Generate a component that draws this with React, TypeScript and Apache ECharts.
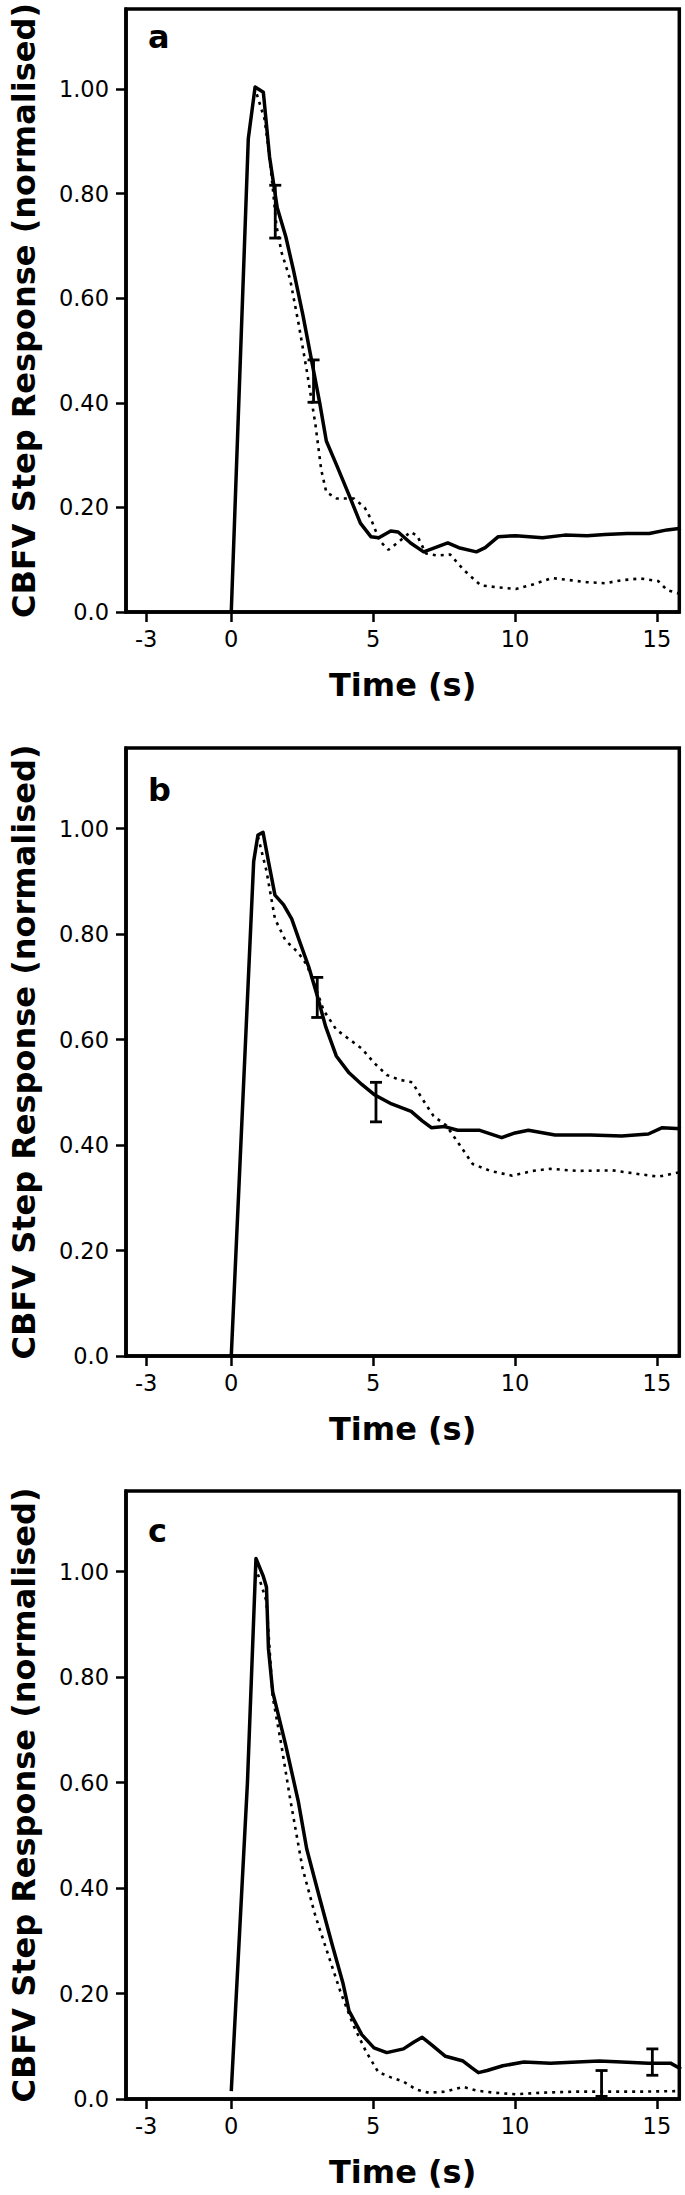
import React, { useEffect, useRef } from 'react';
import * as echarts from 'echarts';

// ---------- data ----------
const X_TICKS = [-3, 0, 5, 10, 15];
const Y_TICKS = [0, 0.2, 0.4, 0.6, 0.8, 1.0];
const PANEL_LABELS = ['a', 'b', 'c'];
const X_TITLE = 'Time (s)';
const Y_TITLE = 'CBFV Step Response (normalised)';

const panelASolid: number[][] = [
  [0, 0], [0.6, 0.905], [0.84, 1.004], [1.13, 0.994], [1.35, 0.87], [1.62, 0.773], [1.92, 0.718],
  [2.19, 0.654], [2.52, 0.569], [2.82, 0.484], [3.12, 0.399], [3.35, 0.327], [3.72, 0.28],
  [4.17, 0.221], [4.55, 0.17], [4.92, 0.144], [5.2, 0.142], [5.62, 0.155], [5.88, 0.153],
  [6.32, 0.132], [6.78, 0.115], [7.09, 0.121], [7.63, 0.132], [8.02, 0.123], [8.64, 0.115],
  [8.95, 0.123], [9.41, 0.144], [10.03, 0.146], [10.97, 0.142], [11.75, 0.147], [12.54, 0.146],
  [13.17, 0.148], [13.95, 0.15], [14.73, 0.15], [15.36, 0.157], [15.85, 0.16],
];
const panelADotted: number[][] = [
  [0.9, 0.99], [1.17, 0.943], [1.32, 0.884], [1.47, 0.807], [1.59, 0.739], [1.77, 0.688],
  [2.07, 0.637], [2.37, 0.552], [2.67, 0.459], [2.97, 0.357], [3.17, 0.272], [3.35, 0.229],
  [3.72, 0.217], [4.32, 0.217], [4.7, 0.2], [4.92, 0.178], [5.23, 0.136], [5.54, 0.119],
  [5.85, 0.132], [6.32, 0.153], [6.55, 0.146], [6.86, 0.112], [7.25, 0.108], [7.71, 0.11],
  [8.18, 0.081], [8.79, 0.051], [9.41, 0.047], [10.03, 0.044], [10.66, 0.053], [11.29, 0.065],
  [11.91, 0.061], [12.54, 0.057], [13.17, 0.055], [13.79, 0.061], [14.42, 0.064], [15.05, 0.059],
  [15.36, 0.042], [15.85, 0.034],
];
const panelAErrors: number[][] = [
  [1.55, 0.715, 0.816],
  [2.9, 0.401, 0.482],
];

const panelBSolid: number[][] = [
  [0, 0], [0.79, 0.938], [0.94, 0.988], [1.12, 0.993], [1.31, 0.938], [1.54, 0.874], [1.84, 0.856],
  [2.13, 0.829], [2.43, 0.783], [2.73, 0.738], [3.03, 0.683], [3.33, 0.624], [3.7, 0.569],
  [4.15, 0.537], [4.6, 0.515], [5.03, 0.496], [5.65, 0.478], [6.34, 0.464], [6.73, 0.446],
  [7.05, 0.433], [7.52, 0.435], [7.98, 0.428], [8.76, 0.428], [9.53, 0.414], [10.0, 0.423],
  [10.47, 0.428], [11.41, 0.419], [12.66, 0.419], [13.76, 0.417], [14.7, 0.421], [15.19, 0.433],
  [15.85, 0.431],
];
const panelBDotted: number[][] = [
  [0.94, 0.985], [1.24, 0.92], [1.54, 0.829], [1.91, 0.788], [2.36, 0.765], [2.66, 0.742],
  [2.96, 0.701], [3.25, 0.656], [3.7, 0.619], [4.15, 0.601], [4.6, 0.583], [5.03, 0.556],
  [5.48, 0.533], [5.92, 0.524], [6.38, 0.519], [6.68, 0.492], [7.13, 0.455], [7.58, 0.437],
  [8.04, 0.401], [8.51, 0.364], [9.13, 0.351], [9.9, 0.342], [10.62, 0.351], [11.24, 0.355],
  [12.18, 0.351], [13.44, 0.352], [14.22, 0.346], [15.05, 0.34], [15.85, 0.349],
];
const panelBErrors: number[][] = [
  [3.03, 0.642, 0.718],
  [5.1, 0.444, 0.519],
];

const panelCSolid: number[][] = [
  [0, 0.015], [0.57, 0.6], [0.87, 1.025], [1.13, 0.991], [1.24, 0.971], [1.31, 0.854], [1.46, 0.772],
  [1.91, 0.673], [2.36, 0.565], [2.66, 0.474], [3.1, 0.384], [3.55, 0.294], [3.93, 0.221],
  [4.15, 0.167], [4.6, 0.122], [5.03, 0.097], [5.48, 0.088], [6.07, 0.095], [6.44, 0.108],
  [6.73, 0.117], [7.03, 0.104], [7.55, 0.081], [8.17, 0.072], [8.48, 0.059], [8.71, 0.05],
  [9.02, 0.054], [9.57, 0.063], [10.31, 0.07], [11.25, 0.068], [12.19, 0.07], [12.97, 0.072],
  [13.76, 0.07], [14.7, 0.068], [15.48, 0.068], [15.85, 0.057],
];
const panelCDotted: number[][] = [
  [0.94, 0.995], [1.24, 0.944], [1.46, 0.763], [1.76, 0.673], [2.06, 0.574], [2.51, 0.438],
  [2.96, 0.348], [3.4, 0.276], [3.85, 0.203], [4.3, 0.14], [4.75, 0.09], [5.18, 0.051],
  [5.63, 0.041], [6.07, 0.033], [6.52, 0.018], [6.96, 0.012], [7.55, 0.014], [8.17, 0.023],
  [8.63, 0.016], [9.25, 0.012], [10.03, 0.009], [10.97, 0.012], [12.22, 0.014], [13.32, 0.014],
  [14.42, 0.014], [15.85, 0.015],
];
const panelCErrors: number[][] = [
  [13.05, 0.005, 0.054],
  [14.84, 0.045, 0.095],
];

const PANELS = [
  { solid: panelASolid, dotted: panelADotted, errors: panelAErrors },
  { solid: panelBSolid, dotted: panelBDotted, errors: panelBErrors },
  { solid: panelCSolid, dotted: panelCDotted, errors: panelCErrors },
];

// ---------- layout ----------
const GRID_TOPS = [4, 748, 1491];
const GRID_HEIGHT = 608;
const LETTER_TOPS = [21, 774, 1515];
const X_MIN = -3.71;
const X_MAX = 15.79;
const Y_MAX = 1.153;
const FONT = '"DejaVu Sans", Verdana, sans-serif';

export default function App() {
  const ref = useRef<HTMLDivElement>(null);

  useEffect(() => {
    document.body.style.margin = '0';
    if (!ref.current) return;
    const chart = echarts.init(ref.current, undefined, { renderer: 'svg' });

    const grids = GRID_TOPS.map((top) => ({
      left: 125,
      width: 554.3,
      top,
      height: GRID_HEIGHT,
      show: true,
      borderColor: '#000',
      borderWidth: 3.5,
      backgroundColor: 'transparent',
    }));

    const xAxes = GRID_TOPS.map((_, i) => ({
      type: 'value',
      gridIndex: i,
      min: X_MIN,
      max: X_MAX,
      name: X_TITLE,
      nameLocation: 'middle',
      nameGap: 57,
      nameTextStyle: { fontFamily: FONT, fontSize: 32, fontWeight: 'bold', color: '#000' },
      axisLine: { show: true, onZero: false, lineStyle: { color: '#000', width: 3.5 } },
      axisTick: { show: true, length: 10, customValues: X_TICKS, lineStyle: { color: '#000', width: 2.5 } },
      axisLabel: { customValues: X_TICKS, fontFamily: FONT, fontSize: 22.5, color: '#000', margin: 15 },
      splitLine: { show: false },
    }));

    const yAxes = GRID_TOPS.map((_, i) => ({
      type: 'value',
      gridIndex: i,
      min: 0,
      max: Y_MAX,
      name: Y_TITLE,
      nameLocation: 'middle',
      nameGap: 86,
      nameTextStyle: { fontFamily: FONT, fontSize: 32, fontWeight: 'bold', color: '#000' },
      axisLine: { show: true, onZero: false, lineStyle: { color: '#000', width: 3.5 } },
      axisTick: { show: true, length: 10, customValues: Y_TICKS, lineStyle: { color: '#000', width: 2.5 } },
      axisLabel: {
        customValues: Y_TICKS,
        fontFamily: FONT,
        fontSize: 22.5,
        color: '#000',
        margin: 17,
        formatter: (v: number) => (v === 0 ? '0.0' : v.toFixed(2)),
      },
      splitLine: { show: false },
    }));

    const series: any[] = [];
    PANELS.forEach((p, i) => {
      series.push({
        type: 'line',
        xAxisIndex: i,
        yAxisIndex: i,
        data: p.solid,
        showSymbol: false,
        lineStyle: { color: '#000', width: 3.5, join: 'round' },
        z: 3,
      });
      series.push({
        type: 'line',
        xAxisIndex: i,
        yAxisIndex: i,
        data: p.dotted,
        showSymbol: false,
        lineStyle: { color: '#000', width: 2.6, type: [3, 5] },
        z: 2,
      });
      series.push({
        type: 'custom',
        xAxisIndex: i,
        yAxisIndex: i,
        data: p.errors,
        encode: { x: 0, y: [1, 2] },
        z: 4,
        renderItem: (_params: any, api: any) => {
          const x = api.value(0);
          const lo = api.coord([x, api.value(1)]);
          const hi = api.coord([x, api.value(2)]);
          const w = 6;
          const style = { stroke: '#000', lineWidth: 2.8 };
          return {
            type: 'group',
            children: [
              { type: 'line', shape: { x1: lo[0], y1: lo[1], x2: hi[0], y2: hi[1] }, style },
              { type: 'line', shape: { x1: lo[0] - w, y1: lo[1], x2: lo[0] + w, y2: lo[1] }, style },
              { type: 'line', shape: { x1: hi[0] - w, y1: hi[1], x2: hi[0] + w, y2: hi[1] }, style },
            ],
          };
        },
      });
    });

    const graphic = PANEL_LABELS.map((t, i) => ({
      type: 'text',
      left: 148,
      top: LETTER_TOPS[i],
      style: { text: t, font: `bold 32px ${FONT}`, fill: '#000' },
    }));

    chart.setOption({
      animation: false,
      backgroundColor: '#fff',
      grid: grids,
      xAxis: xAxes,
      yAxis: yAxes,
      series,
      graphic,
    });

    return () => chart.dispose();
  }, []);

  return <div ref={ref} style={{ width: 685, height: 2195 }} />;
}
